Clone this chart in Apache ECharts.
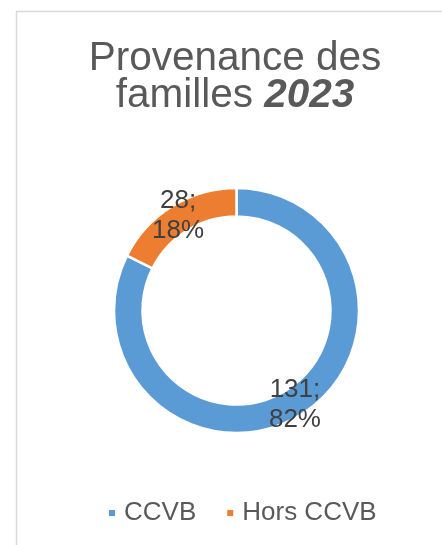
<!DOCTYPE html>
<html>
<head>
<meta charset="utf-8">
<script src="https://cdn.jsdelivr.net/npm/echarts@6/dist/echarts.min.js"></script>
<style>
  html, body { margin: 0; padding: 0; background: #fff; }
  #chart { width: 442px; height: 545px; }
</style>
</head>
<body>
<div id="chart"></div>
<script>
// données
const categories = ['CCVB', 'Hors CCVB']
const values = [131, 28]
const colors = ['#5B9BD5', '#ED7D31']

const font = '"Liberation Sans", Arial, sans-serif'

const myChart = echarts.init(document.getElementById('chart'))
myChart.setOption({
  animation: false,
  color: colors,
  title: {
    text: '{a|Provenance des}\n{a|familles }{b|2023}',
    left: 235,
    top: 41,
    textAlign: 'center',
    padding: 0,
    textStyle: {
      fontWeight: 'normal',
      rich: {
        a: { fontSize: 40.5, lineHeight: 36.5, color: '#595959', fontFamily: font, fontWeight: 'normal' },
        b: { fontSize: 40.5, lineHeight: 36.5, color: '#595959', fontFamily: font, fontWeight: 'bold', fontStyle: 'italic' }
      }
    }
  },
  legend: {
    left: 102,
    top: 495,
    icon: 'rect',
    itemWidth: 8,
    itemHeight: 8,
    itemGap: 29,
    textStyle: { fontSize: 26, color: '#595959', fontFamily: font, padding: [0, 0, 0, 3] },
    data: categories
  },
  graphic: [
    {
      type: 'rect',
      z: -10,
      shape: { x: 16.5, y: 11.5, width: 600, height: 700 },
      style: { fill: 'none', stroke: '#d9d9d9', lineWidth: 1.5 }
    }
  ],
  series: [
    {
      type: 'pie',
      center: [236.5, 310.5],
      radius: [94, 122.5],
      startAngle: 90,
      percentPrecision: 0,
      itemStyle: { borderColor: '#fff', borderWidth: 2.5 },
      label: {
        position: 'inside',
        formatter: '{c};\n{d}%',
        fontSize: 26,
        lineHeight: 30,
        color: '#404040',
        fontFamily: font
      },
      labelLine: { show: false },
      emphasis: { disabled: true },
      data: categories.map((name, i) => ({ name, value: values[i] }))
    }
  ]
})
</script>
</body>
</html>
